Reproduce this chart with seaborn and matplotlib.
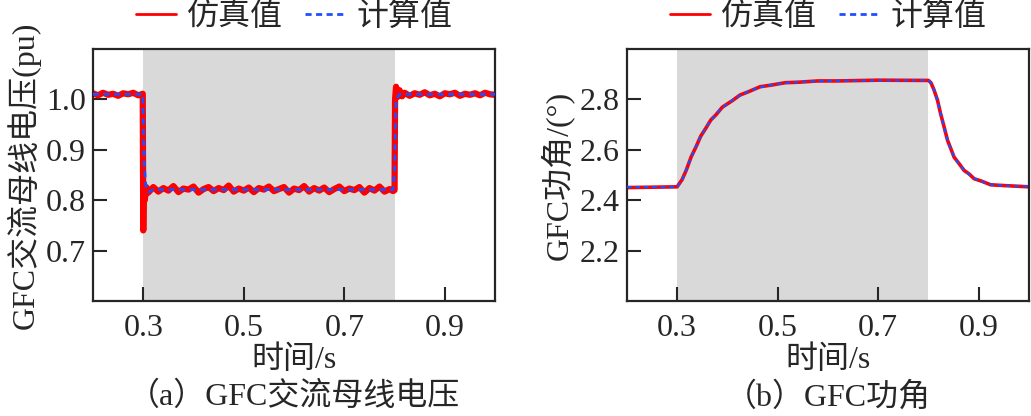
"""GFC 交流母线电压 / 功角 仿真值与计算值对比图."""
import numpy as np
import pandas as pd
import matplotlib
matplotlib.use("Agg")
import matplotlib.pyplot as plt
import seaborn as sns

# (a) 交流母线电压 仿真值 (分段, 逐点读图)
v_sim_pre = [1.012, 1.008, 1.013, 1.009, 1.011, 1.007, 1.012, 1.010, 1.013, 1.008]
v_sim_drop_t = [0.299, 0.300, 0.301, 0.303, 0.306, 0.310]
v_sim_drop = [1.011, 0.740, 0.830, 0.800, 0.826, 0.815]
v_sim_fault = [0.826, 0.817, 0.824, 0.819, 0.828, 0.816, 0.823, 0.821, 0.827, 0.815,
               0.822, 0.826, 0.818, 0.824, 0.820, 0.829, 0.817, 0.823, 0.819, 0.825,
               0.816, 0.824, 0.821, 0.827, 0.818, 0.822, 0.826, 0.815, 0.823, 0.820,
               0.828, 0.817, 0.824, 0.819, 0.825, 0.816, 0.822, 0.827, 0.818, 0.823,
               0.820, 0.826, 0.815, 0.824, 0.819, 0.827, 0.817, 0.822]
v_sim_rise_t = [0.797, 0.800, 0.801, 0.803, 0.806, 0.810, 0.815]
v_sim_rise = [0.818, 0.820, 1.000, 1.025, 1.005, 1.018, 1.006]
v_sim_post = [1.013, 1.007, 1.012, 1.009, 1.014, 1.008, 1.011, 1.006, 1.012, 1.010,
              1.013, 1.007, 1.011, 1.009, 1.012, 1.008, 1.013, 1.010, 1.009]

# (a) 计算值
v_calc_t = [0.20, 0.299, 0.302, 0.305, 0.310, 0.320, 0.797, 0.800, 0.803, 0.810, 1.00]
v_calc = [1.010, 1.010, 0.870, 0.830, 0.816, 0.821, 0.821, 0.860, 1.000, 1.010, 1.010]

# (b) 功角
a_t = [0.20, 0.30, 0.31, 0.318, 0.328, 0.3375, 0.347, 0.357, 0.367, 0.377, 0.39,
       0.41, 0.425, 0.443, 0.465, 0.489, 0.515, 0.542, 0.58, 0.62, 0.70, 0.80,
       0.805, 0.811, 0.818, 0.824, 0.831, 0.838, 0.845, 0.851, 0.861, 0.871,
       0.881, 0.891, 0.905, 0.924, 0.95, 1.00]
a_calc = [2.452, 2.452, 2.480, 2.520, 2.570, 2.613, 2.652, 2.687, 2.716, 2.740, 2.767,
          2.797, 2.815, 2.833, 2.848, 2.858, 2.865, 2.869, 2.872, 2.874, 2.875, 2.876,
          2.865, 2.840, 2.795, 2.747, 2.690, 2.640, 2.600, 2.573, 2.543, 2.520,
          2.502, 2.487, 2.474, 2.463, 2.457, 2.455]
a_sim = [2.450, 2.453, 2.482, 2.518, 2.572, 2.611, 2.654, 2.685, 2.718, 2.738, 2.769,
         2.795, 2.817, 2.831, 2.850, 2.857, 2.866, 2.868, 2.873, 2.873, 2.876, 2.875,
         2.866, 2.838, 2.797, 2.745, 2.692, 2.638, 2.602, 2.571, 2.545, 2.518,
         2.504, 2.485, 2.476, 2.461, 2.458, 2.453]

fault_span = (0.3, 0.8)
xticks = [0.3, 0.5, 0.7, 0.9]

RED = "#ff0000"
BLUE = "#1f4fff"
FS = 23


def build_voltage():
    t = (list(np.linspace(0.20, 0.29, len(v_sim_pre))) + v_sim_drop_t
         + list(np.linspace(0.32, 0.79, len(v_sim_fault))) + v_sim_rise_t
         + list(np.linspace(0.82, 1.00, len(v_sim_post))))
    v = v_sim_pre + v_sim_drop + v_sim_fault + v_sim_rise + v_sim_post
    return pd.DataFrame({"t": t, "v": v})


def style_axes(ax, ylim, yticks, ylabel, caption):
    ax.axvspan(*fault_span, color="#d9d9d9", lw=0, zorder=0)
    ax.set_xlim(0.2, 1.0)
    ax.set_ylim(*ylim)
    ax.set_xticks(xticks)
    ax.set_xticklabels([f"{x:.1f}" for x in xticks])
    ax.set_yticks(yticks)
    ax.set_yticklabels([f"{y:.1f}" for y in yticks])
    ax.tick_params(axis="x", direction="in", length=10, width=1.5, pad=9, labelsize=FS)
    ax.tick_params(axis="y", direction="in", length=10, width=1.5, pad=5, labelsize=FS)
    for s in ax.spines.values():
        s.set_linewidth(1.6)
        s.set_visible(True)
    ax.set_xlabel("时间/s", fontsize=FS, labelpad=2)
    ax.set_ylabel(ylabel, fontsize=FS, labelpad=4)
    ax.text(0.5, -0.38, caption, transform=ax.transAxes, ha="center", va="center",
            fontsize=FS)
    leg = ax.legend(loc="center", bbox_to_anchor=(0.5, 1.125), ncol=2, frameon=False,
                    fontsize=FS, handlelength=1.25, handletextpad=0.35, columnspacing=0.7)
    leg.legend_handles[0].set_linewidth(2)
    leg.legend_handles[1].set_linewidth(2)


def main():
    sns.set_theme(style="ticks")
    plt.rcParams["font.family"] = ["Liberation Serif", "Noto Sans CJK SC"]
    plt.rcParams["axes.unicode_minus"] = False

    fig = plt.figure(figsize=(10.31, 4.16), dpi=100)
    ax1 = fig.add_axes([0.0902, 0.2764, 0.390, 0.606])
    ax2 = fig.add_axes([0.608, 0.2764, 0.390, 0.606])

    df_v = build_voltage()
    sns.lineplot(data=df_v, x="t", y="v", ax=ax1, color=RED, lw=4.5, sort=False,
                 label="仿真值", zorder=2)
    sns.lineplot(x=v_calc_t, y=v_calc, ax=ax1, color=BLUE, lw=2, sort=False,
                 label="计算值", zorder=3)
    ax1.lines[-1].set_linestyle((0, (2.2, 1.6)))
    style_axes(ax1, (0.6, 1.1), [0.7, 0.8, 0.9, 1.0], "GFC交流母线电压(pu)",
               "（a）GFC交流母线电压")

    sns.lineplot(x=a_t, y=a_sim, ax=ax2, color=RED, lw=2.6, sort=False,
                 label="仿真值", zorder=2)
    sns.lineplot(x=a_t, y=a_calc, ax=ax2, color=BLUE, lw=1.6, sort=False,
                 label="计算值", zorder=3)
    ax2.lines[-1].set_linestyle((0, (2.2, 1.6)))
    style_axes(ax2, (2.0, 3.0), [2.2, 2.4, 2.6, 2.8], "GFC功角/(°)",
               "（b）GFC功角")

    fig.savefig("out.png", dpi=100)


if __name__ == "__main__":
    main()
